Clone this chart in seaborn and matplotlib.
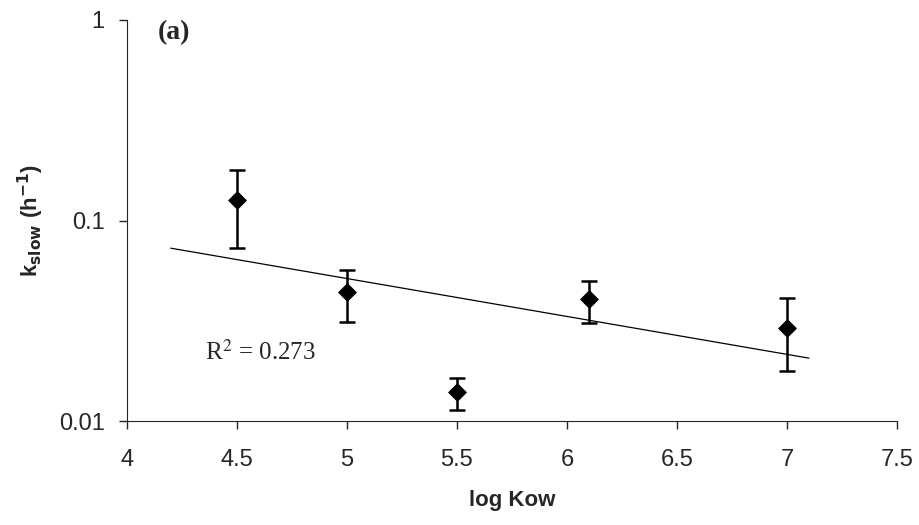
import numpy as np
import pandas as pd
import matplotlib
matplotlib.use('Agg')
import matplotlib.pyplot as plt
import seaborn as sns

# Data
log_kow = [4.5, 5.0, 5.5, 6.1, 7.0]
k_slow = [0.127, 0.0438, 0.0140, 0.0408, 0.0292]
err_hi = [0.178, 0.0564, 0.0163, 0.0502, 0.0413]
err_lo = [0.073, 0.0313, 0.0113, 0.0310, 0.0177]
trend_x = [4.2, 7.1]
r2_text = 'R$^2$ = 0.273'

df = pd.DataFrame({'logKow': log_kow, 'kslow': k_slow})

# exponential trendline (linear fit of log10 k vs log Kow)
slope, intercept = np.polyfit(df['logKow'], np.log10(df['kslow']), 1)
trend = pd.DataFrame({'logKow': trend_x})
trend['kslow'] = 10 ** (intercept + slope * trend['logKow'])

sns.set_style('ticks')
plt.rcParams['font.family'] = ['Liberation Sans', 'DejaVu Sans']

fig = plt.figure(figsize=(9.19, 5.25), dpi=100)
ax = fig.add_axes([0.138, 0.198, 0.838, 0.764])

sns.lineplot(data=trend, x='logKow', y='kslow', color='black', linewidth=0.9, ax=ax)

yerr = [np.array(k_slow) - np.array(err_lo), np.array(err_hi) - np.array(k_slow)]
ax.errorbar(log_kow, k_slow, yerr=yerr, fmt='none', ecolor='black',
            elinewidth=1.8, capsize=6, capthick=1.8)
sns.scatterplot(data=df, x='logKow', y='kslow', marker='D', s=80,
                color='black', edgecolor='black', ax=ax, zorder=5)

ax.set_yscale('log')
ax.set_ylim(0.01, 1)
ax.set_xlim(4, 7.5)
ax.set_xticks([4, 4.5, 5, 5.5, 6, 6.5, 7, 7.5])
ax.set_xticklabels(['4', '4.5', '5', '5.5', '6', '6.5', '7', '7.5'])
ax.set_yticks([0.01, 0.1, 1])
ax.set_yticklabels(['0.01', '0.1', '1'])
ax.yaxis.set_minor_locator(matplotlib.ticker.NullLocator())
ax.tick_params(axis='both', labelsize=17, length=6, width=1)
ax.tick_params(axis='x', pad=14)
ax.tick_params(axis='y', pad=10)
sns.despine(ax=ax)

ax.set_xlabel('log Kow', fontsize=16, fontweight='bold', labelpad=14)
ax.set_ylabel(r'k$_{\mathbf{slow}}$ (h$^{\mathbf{-1}}$)', fontsize=16,
              fontweight='bold', labelpad=9)

ax.text(0.04, 1.0, '(a)', transform=ax.transAxes, fontsize=20,
        fontweight='bold', family='Liberation Serif', va='top')
ax.text(4.355, 0.022, r2_text, fontsize=18, family='Liberation Serif',
        va='center', math_fontfamily='stix')

fig.savefig('out.png', dpi=100)
